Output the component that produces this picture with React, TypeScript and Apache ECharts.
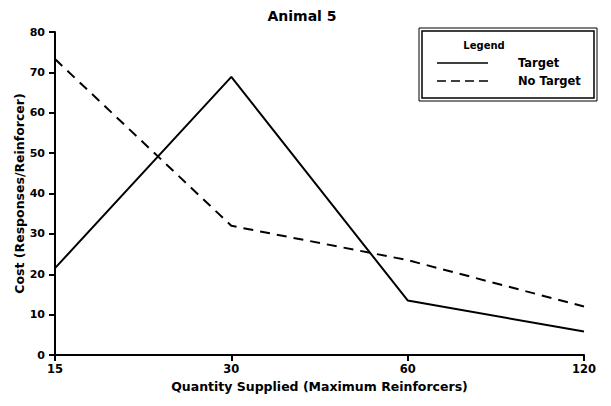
import React, { useEffect, useRef } from "react";
import * as echarts from "echarts";

const categories = ["15", "30", "60", "120"];
const seriesNames = ["Target", "No Target"];
const targetValues = [21.5, 68.9, 13.5, 5.8];
const noTargetValues = [73.3, 32.0, 23.5, 12.0];
const yTicks = { min: 0, max: 80, interval: 10 };

const FONT = "DejaVu Sans, Liberation Sans, Arial, sans-serif";

export default function App() {
  const ref = useRef<HTMLDivElement>(null);
  useEffect(() => {
    if (!ref.current) return;
    const chart = echarts.init(ref.current, undefined, { renderer: "svg" });
    const lx = 419, ly = 28, lw = 178, lh = 73;
    chart.setOption({
      animation: false,
      backgroundColor: "#fff",
      title: {
        text: "Animal 5",
        left: 297,
        top: 4,
        textAlign: "center",
        textStyle: { fontFamily: FONT, fontSize: 14, fontWeight: "bold", color: "#000" },
      },
      grid: { left: 55, right: 27, top: 32, bottom: 51, containLabel: false, outerBoundsMode: "none" },
      xAxis: {
        type: "category",
        data: categories,
        boundaryGap: false,
        name: "Quantity Supplied (Maximum Reinforcers)",
        nameLocation: "middle",
        nameGap: 25,
        nameTextStyle: { fontFamily: FONT, fontSize: 12.5, fontWeight: "bold", color: "#000" },
        axisLine: { lineStyle: { color: "#000", width: 2 } },
        axisTick: { show: true, length: 6, lineStyle: { color: "#000", width: 2 } },
        axisLabel: { fontFamily: FONT, fontSize: 11.5, fontWeight: "bold", color: "#000", margin: 8 },
        splitLine: { show: false },
      },
      yAxis: {
        type: "value",
        min: yTicks.min,
        max: yTicks.max,
        interval: yTicks.interval,
        name: "Cost (Responses/Reinforcer)",
        nameLocation: "middle",
        nameGap: 29,
        nameMoveOverlap: false,
        nameRotate: 90,
        nameTextStyle: { fontFamily: FONT, fontSize: 12.5, fontWeight: "bold", color: "#000" },
        axisLine: { show: true, lineStyle: { color: "#000", width: 2 } },
        axisTick: { show: true, length: 6, lineStyle: { color: "#000", width: 2 } },
        axisLabel: { fontFamily: FONT, fontSize: 11, fontWeight: "bold", color: "#000", margin: 10 },
        splitLine: { show: false },
      },
      series: [
        {
          name: seriesNames[0],
          type: "line",
          data: targetValues,
          symbol: "none",
          lineStyle: { color: "#000", width: 2, type: "solid" },
        },
        {
          name: seriesNames[1],
          type: "line",
          data: noTargetValues,
          symbol: "none",
          lineStyle: { color: "#000", width: 2, type: [10, 7] },
        },
      ],
      graphic: [
        { type: "rect", shape: { x: lx, y: ly, width: lw, height: lh }, style: { fill: "#fff", stroke: "#000", lineWidth: 1 } },
        { type: "rect", shape: { x: lx + 3, y: ly + 3, width: lw - 6, height: lh - 6 }, style: { fill: "none", stroke: "#000", lineWidth: 1.5 } },
        { type: "text", x: 484, y: 45, style: { text: "Legend", font: `bold 10px ${FONT}`, fill: "#000", align: "center", verticalAlign: "middle" } },
        { type: "line", shape: { x1: 437, y1: 63, x2: 488, y2: 63 }, style: { stroke: "#000", lineWidth: 1.5 } },
        { type: "text", x: 518, y: 63, style: { text: seriesNames[0], font: `bold 11.5px ${FONT}`, fill: "#000", align: "left", verticalAlign: "middle" } },
        { type: "line", shape: { x1: 437, y1: 81, x2: 490, y2: 81 }, style: { stroke: "#000", lineWidth: 1.5, lineDash: [9, 5] } },
        { type: "text", x: 518, y: 81, style: { text: seriesNames[1], font: `bold 11.5px ${FONT}`, fill: "#000", align: "left", verticalAlign: "middle" } },
      ],
    });
    return () => chart.dispose();
  }, []);
  return <div ref={ref} style={{ width: 611, height: 406, position: "absolute", left: 0, top: 0 }} />;
}
